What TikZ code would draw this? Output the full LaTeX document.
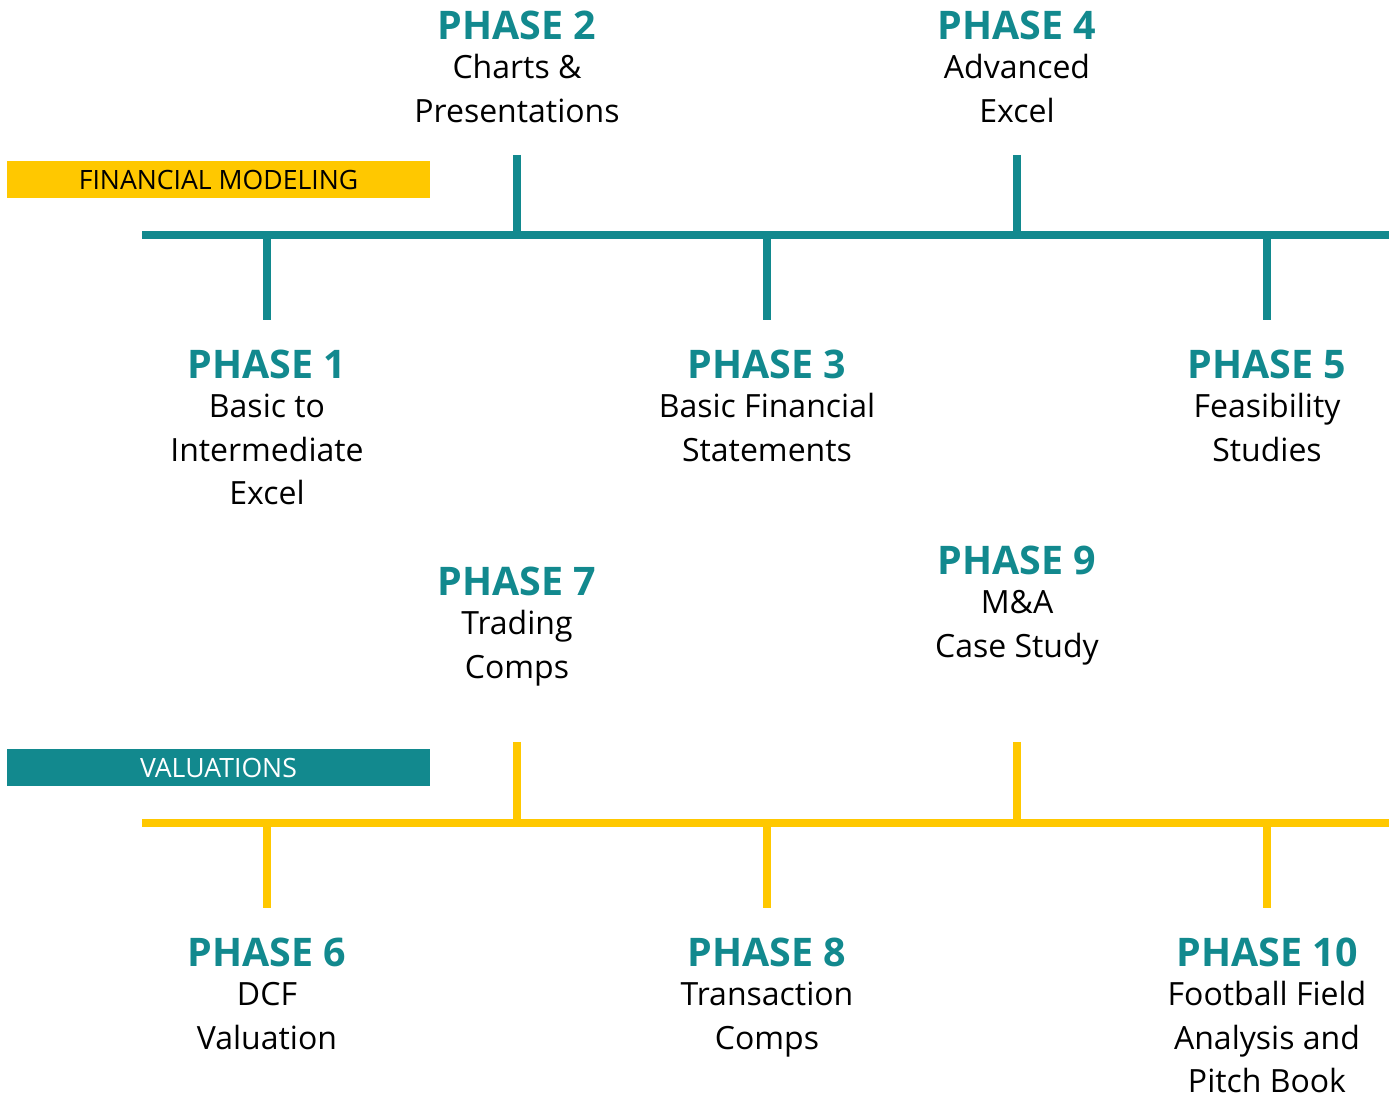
\documentclass[tikz,border=0pt]{standalone}
\usepackage{fontspec}
\setmainfont{Open Sans}
\usepackage{xcolor}
\usepackage{tikz}
\definecolor{accent}{HTML}{12898E}
\definecolor{gold}{HTML}{FFC800}
\tikzset{
  axis/.style={line width=4pt},
  tickmark/.style={line width=4pt},
  phase/.style={align=center, anchor=north, inner sep=0pt, font=\fontsize{16}{21.75}\selectfont},
  banner/.style={minimum width=211.5pt, minimum height=18.5pt, inner sep=0pt, font=\fontsize{13.3}{15}\selectfont},
}
\newcommand{\phtitle}[1]{{\fontsize{19.7}{21.75}\selectfont\bfseries\color{accent}#1}\\[-2.25pt]}

\begin{document}
\begin{tikzpicture}[x=0.5pt, y=-0.5pt]
  \useasboundingbox (0,0) rectangle (1389,1096);

  % financial modeling track
  \coordinate (FA) at (142,235);   % track start
  \coordinate (FB) at (1389,235);  % track end
  \coordinate (F1) at (267,320);   % phase 1 foot
  \coordinate (F2) at (517,155);   % phase 2 top
  \coordinate (F3) at (767,320);   % phase 3 foot
  \coordinate (F4) at (1017,155);  % phase 4 top
  \coordinate (F5) at (1267,320);  % phase 5 foot

  \node[banner, fill=gold, text=black] (fm) at (218.5,179.5) {FINANCIAL MODELING};

  \draw[axis, accent] (FA)--(FB);
  \draw[tickmark, accent] (F1)--(F1 |- FA);
  \draw[tickmark, accent] (F2)--(F2 |- FA);
  \draw[tickmark, accent] (F3)--(F3 |- FA);
  \draw[tickmark, accent] (F4)--(F4 |- FA);
  \draw[tickmark, accent] (F5)--(F5 |- FA);

  \node[phase] (p2) at (517,11) {\phtitle{PHASE 2}Charts \&\\Presentations};
  \node[phase] (p4) at (1017,11) {\phtitle{PHASE 4}Advanced\\Excel};
  \node[phase] (p1) at (267,350) {\phtitle{PHASE 1}Basic to\\Intermediate\\Excel};
  \node[phase] (p3) at (767,350) {\phtitle{PHASE 3}Basic Financial\\Statements};
  \node[phase] (p5) at (1267,350) {\phtitle{PHASE 5}Feasibility\\Studies};

  % valuations track
  \coordinate (VA) at (142,823);   % track start
  \coordinate (VB) at (1389,823);  % track end
  \coordinate (V6) at (267,908);   % phase 6 foot
  \coordinate (V7) at (517,742);   % phase 7 top
  \coordinate (V8) at (767,908);   % phase 8 foot
  \coordinate (V9) at (1017,742);  % phase 9 top
  \coordinate (V10) at (1267,908); % phase 10 foot

  \node[banner, fill=accent, text=white] (val) at (218.5,767.5) {VALUATIONS};

  \draw[axis, gold] (VA)--(VB);
  \draw[tickmark, gold] (V6)--(V6 |- VA);
  \draw[tickmark, gold] (V7)--(V7 |- VA);
  \draw[tickmark, gold] (V8)--(V8 |- VA);
  \draw[tickmark, gold] (V9)--(V9 |- VA);
  \draw[tickmark, gold] (V10)--(V10 |- VA);

  \node[phase] (p7) at (517,567) {\phtitle{PHASE 7}Trading\\Comps};
  \node[phase] (p9) at (1017,546) {\phtitle{PHASE 9}M\&A\\Case Study};
  \node[phase] (p6) at (267,938) {\phtitle{PHASE 6}DCF\\Valuation};
  \node[phase] (p8) at (767,938) {\phtitle{PHASE 8}Transaction\\Comps};
  \node[phase] (p10) at (1267,938) {\phtitle{PHASE 10}Football Field\\Analysis and\\Pitch Book};
\end{tikzpicture}
\end{document}
